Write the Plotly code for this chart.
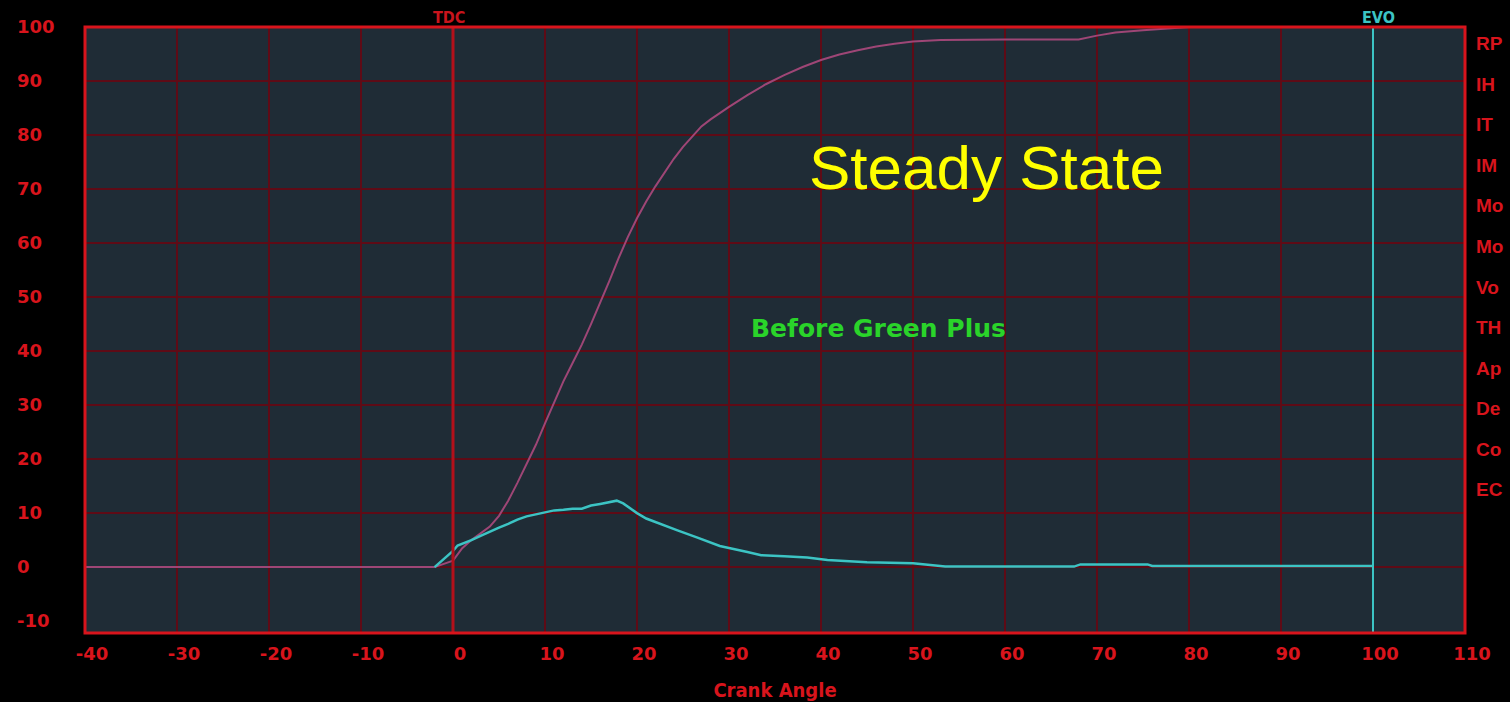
import plotly.graph_objects as go

# ---------------- data ----------------
burn_angle = [-40, -2, 0, 1, 2, 3, 4, 5, 6, 7, 8, 9, 10, 11, 12, 13, 14, 15, 16, 17,
              18, 19, 20, 21, 22, 23, 24, 25, 26, 27, 28, 29, 30, 32, 34, 36, 38, 40, 42,
              44, 46, 48, 50, 53, 56, 60, 65, 68, 70, 72, 75, 78, 80, 90, 100]
burn_value = [0, 0, 1.2, 3.5, 5, 6.2, 7.5, 9.5, 12.3, 15.6, 19, 22.6, 26.6, 30.6, 34.4, 37.8, 41.2, 45, 48.9, 53,
              57.2, 61.1, 64.6, 67.7, 70.5, 73.1, 75.6, 77.8, 79.8, 81.6, 82.9, 84.1, 85.2, 87.4, 89.4, 91.1, 92.6, 93.9, 94.9,
              95.7, 96.4, 96.9, 97.3, 97.6, 97.7, 97.7, 97.7, 97.7, 98.4, 99, 99.4, 99.8, 100, 100, 100]

heat_angle = [-2, -1, 0, 0.5, 1, 2, 3, 4, 5, 6, 7, 8, 9, 10, 11, 12, 13, 14, 15, 16, 17, 17.8,
              18.5, 19.2, 20, 21, 22.5, 24.4, 26.5, 29, 32, 33.5, 36, 38.5, 40.7, 45, 50, 53.5,
              67.5, 68.2, 75.5, 76, 100]
heat_value = [0, 1.5, 3, 4, 4.3, 5, 5.8, 6.6, 7.3, 8, 8.8, 9.4, 9.8, 10.1, 10.5, 10.6, 10.8, 10.8,
              11.4, 11.7, 12, 12.3, 11.8, 10.9, 10, 9, 8, 6.8, 5.5, 3.9, 2.8, 2.2, 2, 1.8, 1.3, 0.9, 0.7,
              0.1, 0.1, 0.5, 0.5, 0.2, 0.2]

x_ticks = [-40, -30, -20, -10, 0, 10, 20, 30, 40, 50, 60, 70, 80, 90, 100, 110]
x_tick_text = ["-40", "-30", "-20", "-10", "0", "10", "20", "30", "40", "50", "60", "70", "80", "90", "100", "110"]
y_ticks = [-10, 0, 10, 20, 30, 40, 50, 60, 70, 80, 90, 100]
y_tick_text = ["-10", "0", "10", "20", "30", "40", "50", "60", "70", "80", "90", "100"]
y_grid = [0, 10, 20, 30, 40, 50, 60, 70, 80, 90, 100]
tdc_angle = 0
evo_angle = 100
side_labels = ["RP", "IH", "IT", "IM", "Mo", "Mo", "Vo", "TH", "Ap", "De", "Co", "EC"]

# ---------------- styles ----------------
RED = "#d8141c"
GRID = "#5e0b16"
BG = "#1f2c36"
MAGENTA = "#9e4676"
CYAN = "#3cc4c4"
TICKFONT = dict(family="DejaVu Sans", size=18, color=RED, weight="bold")

fig = go.Figure()
fig.add_trace(go.Scatter(x=burn_angle, y=burn_value, mode="lines",
                         line=dict(color=MAGENTA, width=2), hoverinfo="skip", showlegend=False))
fig.add_trace(go.Scatter(x=heat_angle, y=heat_value, mode="lines",
                         line=dict(color=CYAN, width=2.5), hoverinfo="skip", showlegend=False))

# TDC and EVO reference lines
fig.add_shape(type="line", xref="x", yref="y domain", x0=tdc_angle, x1=tdc_angle, y0=0, y1=1,
              line=dict(color="#b3101a", width=3), layer="above")
fig.add_shape(type="line", xref="x", yref="y domain", x0=evo_angle, x1=evo_angle, y0=0, y1=1,
              line=dict(color=CYAN, width=2), layer="above")
# plot frame
fig.add_shape(type="rect", xref="x domain", yref="y domain", x0=0, x1=1, y0=0, y1=1,
              line=dict(color=RED, width=3), layer="above")

fig.add_annotation(x=tdc_angle, xref="x", y=1, yref="y domain", yanchor="bottom", text="TDC",
                   showarrow=False, font=dict(family="DejaVu Sans Condensed", size=16, color="#c8141c", weight="bold"),
                   xshift=-4, yshift=-2)
fig.add_annotation(x=evo_angle, xref="x", y=1, yanchor="bottom", yref="y domain", text="EVO",
                   showarrow=False, font=dict(family="DejaVu Sans Condensed", size=16, color=CYAN, weight="bold"),
                   xshift=5, yshift=-2)

fig.add_annotation(x=58.0, y=73.9, text="Steady State", showarrow=False,
                   font=dict(family="Liberation Sans", size=62, color="#ffff00"))
fig.add_annotation(x=46.3, y=44.2, text="Before Green Plus", showarrow=False,
                   font=dict(family="DejaVu Sans", size=25, color="#2ad42a", weight="bold"))

for i, lab in enumerate(side_labels):
    fig.add_annotation(x=1, xref="x domain", xanchor="left", xshift=9,
                       y=(633 - (44 + 40.5 * i)) / 606, yref="y domain", yanchor="middle",
                       text=lab, showarrow=False,
                       font=dict(family="Liberation Sans", size=19, color=RED, weight="bold"))

fig.update_layout(
    width=1510, height=702,
    margin=dict(l=16, r=45, t=27, b=69, autoexpand=False),
    paper_bgcolor="black", plot_bgcolor=BG,
    showlegend=False,
    xaxis=dict(range=[-40, 110], domain=[69 / 1449, 1], tickvals=x_ticks, ticktext=x_tick_text,
               showgrid=True, gridcolor=GRID, gridwidth=2, zeroline=False,
               showline=False, ticks="", tickfont=TICKFONT, ticklabelstandoff=8,
               ticklabelshift=7,
               title=dict(text="Crank Angle", standoff=19,
                          font=dict(family="DejaVu Sans Condensed", size=20, color=RED, weight="bold"))),
    yaxis=dict(range=[-12.2, 100], tickvals=y_ticks, ticktext=y_tick_text, anchor="free", position=0,
               side="right", automargin=False, showgrid=False, zeroline=False, showline=False,
               ticks="", tickfont=TICKFONT,
               minor=dict(tickvals=y_grid, showgrid=True, gridcolor=GRID, gridwidth=2, ticks="")),
)

fig.write_html("out.html", config={"displayModeBar": False},
               post_script="document.body.style.margin='0';")
